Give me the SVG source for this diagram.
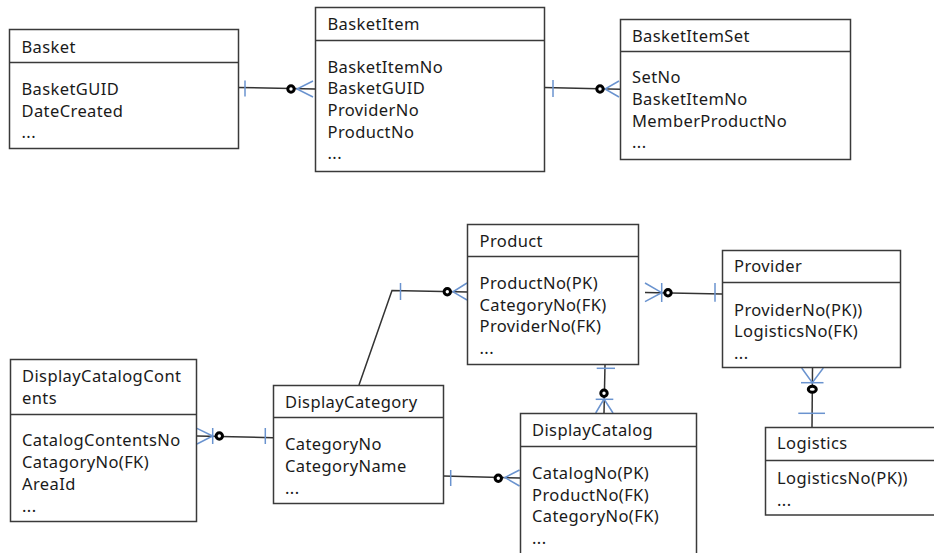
<svg xmlns="http://www.w3.org/2000/svg" width="934" height="553" viewBox="0 0 934 553">
<style>
.box{fill:#fff;stroke:#3a3a3a;stroke-width:1.5}
.hd{stroke:#3a3a3a;stroke-width:1.5}
.t{font-family:"Noto Sans","Open Sans","Liberation Sans",sans-serif;font-size:16.5px;letter-spacing:0.4px;fill:#1a1a1a}
.ln{stroke:#333;stroke-width:1.5;fill:none}
.bl{stroke:#6a93cf;stroke-width:1.5;fill:none}
.o{fill:#fff;stroke:#000;stroke-width:3}
</style>
<rect width="934" height="553" fill="#fff"/>
<g id="connectors">
  <g id="c1">
    <line class="ln" x1="237" y1="87.5" x2="315" y2="89"/>
    <line class="bl" x1="245" y1="80.5" x2="245" y2="96.5"/>
    <path class="bl" d="M313,81 L297,89 L313,97"/>
    <circle class="o" cx="291" cy="89" r="3.2"/>
  </g>
  <g id="c2">
    <line class="ln" x1="544" y1="87.5" x2="620" y2="89.3"/>
    <line class="bl" x1="553" y1="80" x2="553" y2="97"/>
    <path class="bl" d="M619,81 L605,89 L619,97"/>
    <circle class="o" cx="600" cy="89" r="3.2"/>
  </g>
  <g id="c3">
    <polyline class="ln" points="359,385 392,290.5 468,292"/>
    <line class="bl" x1="400.5" y1="283" x2="400.5" y2="300"/>
    <path class="bl" d="M467,283 L453,291.8 L467,300"/>
    <circle class="o" cx="447.3" cy="291.7" r="3.2"/>
  </g>
  <g id="c4">
    <line class="ln" x1="645" y1="292.5" x2="722" y2="294"/>
    <path class="bl" d="M645,283 L661.7,292.7 L645,301.7"/>
    <line class="bl" x1="661.7" y1="283" x2="661.7" y2="302"/>
    <line class="bl" x1="715" y1="283" x2="715" y2="301.7"/>
    <circle class="o" cx="668" cy="292.7" r="3.2"/>
  </g>
  <g id="c5">
    <line class="ln" x1="812.5" y1="368" x2="812" y2="427.5"/>
    <path class="bl" d="M801.7,368 L812.3,382.7 L823.3,368"/>
    <line class="bl" x1="801" y1="382.7" x2="823.5" y2="382.7"/>
    <line class="bl" x1="798.3" y1="413.3" x2="825" y2="413.3"/>
    <ellipse class="o" cx="812.3" cy="389.3" rx="4" ry="3"/>
  </g>
  <g id="c6">
    <line class="ln" x1="605" y1="365" x2="604" y2="413"/>
    <line class="bl" x1="596.7" y1="368.3" x2="615" y2="368.3"/>
    <line class="bl" x1="595.7" y1="399.3" x2="613.3" y2="399.3"/>
    <path class="bl" d="M595.7,413 L604,399 L613,413"/>
    <circle class="o" cx="604" cy="393.3" r="3.2"/>
  </g>
  <g id="c7">
    <line class="ln" x1="197" y1="436" x2="273" y2="437.7"/>
    <path class="bl" d="M197,428.3 L212.7,436 L197,444"/>
    <line class="bl" x1="212.7" y1="428" x2="212.7" y2="444"/>
    <line class="bl" x1="265.3" y1="428" x2="265.3" y2="444"/>
    <circle class="o" cx="219.3" cy="436" r="3.2"/>
  </g>
  <g id="c8">
    <line class="ln" x1="443.3" y1="476" x2="520" y2="478"/>
    <line class="bl" x1="450.7" y1="470" x2="450.7" y2="486"/>
    <path class="bl" d="M519.5,470 L505,477.5 L519.5,486"/>
    <circle class="o" cx="498.3" cy="478.3" r="3.2"/>
  </g>
</g>
<g id="Basket">
  <rect class="box" x="9.5" y="29.5" width="229" height="119"/>
  <line class="hd" x1="9.5" y1="62.5" x2="238.5" y2="62.5"/>
  <text class="t" x="21.5" y="52.5">Basket</text>
  <text class="t" x="21.5" y="95">BasketGUID</text>
  <text class="t" x="21.5" y="116.7">DateCreated</text>
  <text class="t" x="21.5" y="138.3">...</text>
</g>
<g id="BasketItem">
  <rect class="box" x="315.5" y="7.5" width="229" height="164"/>
  <line class="hd" x1="315.5" y1="40.5" x2="544.5" y2="40.5"/>
  <text class="t" x="327.5" y="30">BasketItem</text>
  <text class="t" x="327.5" y="72.7">BasketItemNo</text>
  <text class="t" x="327.5" y="94.3">BasketGUID</text>
  <text class="t" x="327.5" y="116">ProviderNo</text>
  <text class="t" x="327.5" y="137.7">ProductNo</text>
  <text class="t" x="327.5" y="159.3">...</text>
</g>
<g id="BasketItemSet">
  <rect class="box" x="620.5" y="19.5" width="230" height="140"/>
  <line class="hd" x1="620.5" y1="51.5" x2="850.5" y2="51.5"/>
  <text class="t" x="632" y="41.7">BasketItemSet</text>
  <text class="t" x="632" y="83.3">SetNo</text>
  <text class="t" x="632" y="105">BasketItemNo</text>
  <text class="t" x="632" y="126.7">MemberProductNo</text>
  <text class="t" x="632" y="148.3">...</text>
</g>
<g id="Product">
  <rect class="box" x="467.5" y="224.5" width="171" height="140"/>
  <line class="hd" x1="467.5" y1="256.5" x2="638.5" y2="256.5"/>
  <text class="t" x="479.5" y="246.7">Product</text>
  <text class="t" x="479.5" y="289">ProductNo(PK)</text>
  <text class="t" x="479.5" y="310.7">CategoryNo(FK)</text>
  <text class="t" x="479.5" y="332.3">ProviderNo(FK)</text>
  <text class="t" x="479.5" y="354">...</text>
</g>
<g id="Provider">
  <rect class="box" x="722.5" y="250.5" width="178" height="117"/>
  <line class="hd" x1="722.5" y1="282.5" x2="900.5" y2="282.5"/>
  <text class="t" x="734" y="272.3">Provider</text>
  <text class="t" x="734" y="315.7">ProviderNo(PK))</text>
  <text class="t" x="734" y="337.3">LogisticsNo(FK)</text>
  <text class="t" x="734" y="359">...</text>
</g>
<g id="Logistics">
  <rect class="box" x="765.5" y="427.5" width="175" height="87.5"/>
  <line class="hd" x1="765.5" y1="460.5" x2="940" y2="460.5"/>
  <text class="t" x="777" y="449.3">Logistics</text>
  <text class="t" x="777" y="484.3">LogisticsNo(PK))</text>
  <text class="t" x="777" y="505.7">...</text>
</g>
<g id="DisplayCatalogContents">
  <rect class="box" x="10.5" y="359.5" width="186" height="162"/>
  <line class="hd" x1="10.5" y1="414.5" x2="196.5" y2="414.5"/>
  <text class="t" x="22" y="382">DisplayCatalogCont</text>
  <text class="t" x="22" y="403.7">ents</text>
  <text class="t" x="22" y="446">CatalogContentsNo</text>
  <text class="t" x="22" y="468">CatagoryNo(FK)</text>
  <text class="t" x="22" y="490">AreaId</text>
  <text class="t" x="22" y="511.7">...</text>
</g>
<g id="DisplayCategory">
  <rect class="box" x="273.5" y="385.5" width="170" height="118"/>
  <line class="hd" x1="273.5" y1="417.5" x2="443.5" y2="417.5"/>
  <text class="t" x="285" y="408.3">DisplayCategory</text>
  <text class="t" x="285" y="450.3">CategoryNo</text>
  <text class="t" x="285" y="472">CategoryName</text>
  <text class="t" x="285" y="494.3">...</text>
</g>
<g id="DisplayCatalog">
  <rect class="box" x="520.5" y="413.5" width="176" height="150"/>
  <line class="hd" x1="520.5" y1="446.5" x2="696.5" y2="446.5"/>
  <text class="t" x="532" y="436">DisplayCatalog</text>
  <text class="t" x="532" y="479">CatalogNo(PK)</text>
  <text class="t" x="532" y="500.7">ProductNo(FK)</text>
  <text class="t" x="532" y="522.4">CategoryNo(FK)</text>
  <text class="t" x="532" y="544.1">...</text>
</g>
</svg>
